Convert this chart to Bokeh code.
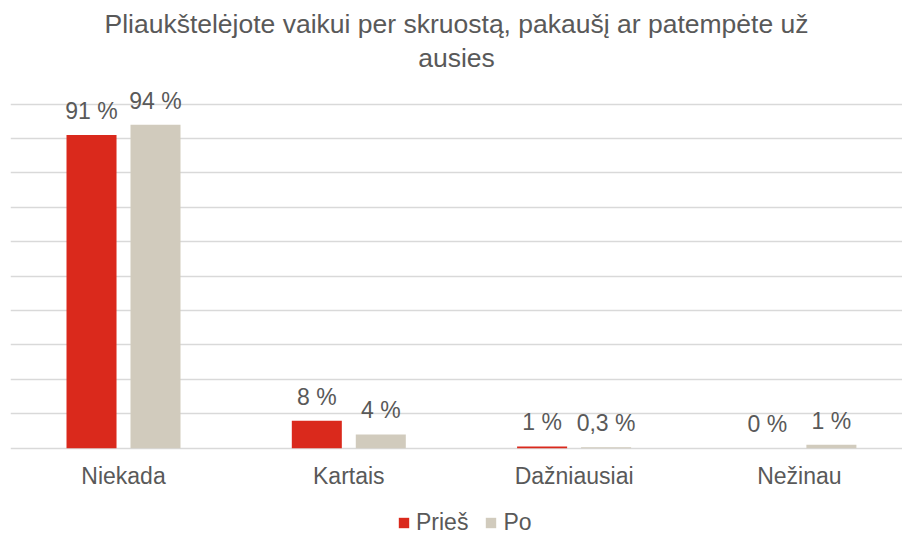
from bokeh.plotting import figure
from bokeh.models import Range1d, FixedTicker, Legend, LegendItem, Title, ColumnDataSource
from bokeh.transform import dodge
from bokeh.core.properties import value
from bokeh.embed import file_html
from bokeh.resources import INLINE

# ---- data ----
categories = ["Niekada", "Kartais", "Dažniausiai", "Nežinau"]
pries = [91, 8, 0.5, 0]
po = [94, 4, 0.3, 1]
pries_labels = ["91 %", "8 %", "1 %", "0 %"]
po_labels = ["94 %", "4 %", "0,3 %", "1 %"]
series_names = ["Prieš", "Po"]
title_lines = ["Pliaukštelėjote vaikui per skruostą, pakaušį ar patempėte už", "ausies"]
grid_ticks = list(range(0, 101, 10))

# ---- style ----
RED = "#DA291C"
BEIGE = "#D1CBBD"
TEXT = "#595959"
GRID = "#D9D9D9"
FONT = "Liberation Sans"

xs = list(range(len(categories)))
base = [0] * len(categories)
src = ColumnDataSource(dict(x=xs, base=base, cat=categories, pries=pries, po=po,
                            pl=pries_labels, bl=po_labels))

p = figure(width=902, height=537, output_backend="svg", toolbar_location=None,
           x_range=Range1d(-0.5016, 3.4576), y_range=Range1d(-25.94, 107.41),
           min_border_left=10, min_border_right=0, min_border_top=78, min_border_bottom=0)

title_style = dict(align="center", text_font=FONT, text_font_size="26.5px",
                   text_font_style="normal", text_color=TEXT)
p.title = Title(text=title_lines[0], standoff=-7, **title_style)
p.add_layout(Title(text=title_lines[1], standoff=11, **title_style), "above")

p.outline_line_color = None
p.xgrid.visible = False
p.xaxis.visible = False
p.yaxis.visible = False
p.ygrid.ticker = FixedTicker(ticks=grid_ticks)
p.ygrid.grid_line_color = GRID
p.ygrid.grid_line_width = 1.5

off = 0.142
bw = 0.222
r1 = p.vbar(x=dodge("x", -off, range=p.x_range), top="pries", width=bw,
            fill_color=RED, line_color=None, source=src)
r2 = p.vbar(x=dodge("x", off, range=p.x_range), top="po", width=bw,
            fill_color=BEIGE, line_color=None, source=src)

txt = dict(text_align="center", text_baseline="alphabetic",
           text_font=value(FONT), text_font_size=value("23px"), text_color=TEXT)
p.text(x=dodge("x", -off, range=p.x_range), y="pries", text="pl", source=src, y_offset=-24, **txt)
p.text(x=dodge("x", off, range=p.x_range), y="po", text="bl", source=src, y_offset=-24, **txt)
# category labels under the baseline
p.text(x="x", y="base", text="cat", source=src, y_offset=28, **txt)

legend = Legend(items=[LegendItem(label=series_names[0], renderers=[r1]),
                       LegendItem(label=series_names[1], renderers=[r2])],
                orientation="horizontal", location=(387, 1),
                glyph_width=13, glyph_height=13, label_standoff=6, spacing=16,
                padding=0, margin=0, border_line_color=None, background_fill_alpha=0,
                label_text_font=FONT, label_text_font_size="23px", label_text_color=TEXT)
p.add_layout(legend, "center")

open("out.html", "w").write(file_html(p, INLINE))
